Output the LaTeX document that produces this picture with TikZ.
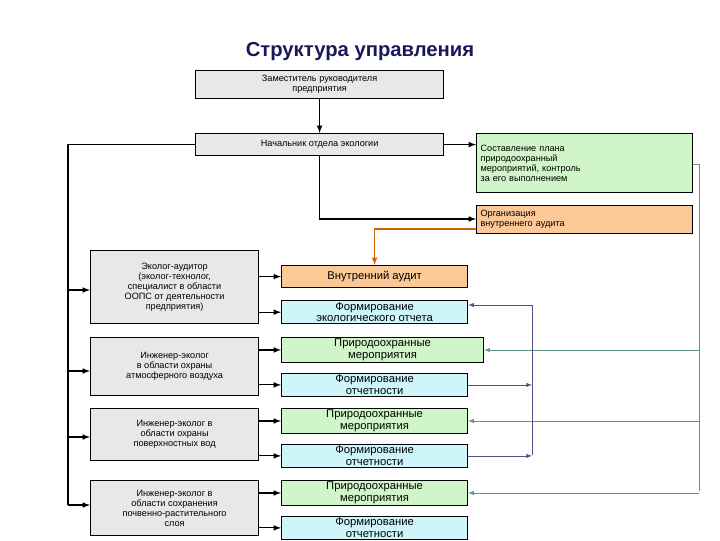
\documentclass[tikz,border=0pt]{standalone}
\usepackage{fontspec}
\setmainfont{Liberation Sans}
\usetikzlibrary{arrows}
\definecolor{boxgrey}{RGB}{232,232,232}
\definecolor{boxgreen}{RGB}{208,245,200}
\definecolor{boxorange}{RGB}{252,200,150}
\definecolor{boxcyan}{RGB}{205,245,250}
\definecolor{fbgreen}{RGB}{90,150,130}
\definecolor{fbblue}{RGB}{80,80,140}
\definecolor{titleblue}{RGB}{25,25,90}
\tikzset{
    box/.style={draw, thick, align=center, inner sep=1pt, anchor=north west, font=\fontsize{6.5}{7}\selectfont},
    head/.style={box, fill=boxgrey},
    staff/.style={box, fill=boxgrey, minimum width=4.2cm},
    plan/.style={box, fill=boxgreen, align=left, anchor=north west},
    org/.style={box, fill=boxorange, align=left},
    task/.style={box, minimum width=4.65cm, font=\fontsize{8}{8.5}\selectfont},
    link/.style={draw, thick, -latex}
}
\begin{document}
\begin{tikzpicture}[x=0.025cm, y=-0.025cm]
\useasboundingbox (0,0) rectangle (720,540);
\node[font=\bfseries\Large, text=titleblue] (title) at (360,52) {Структура управления};

\node[head, minimum width=6.2cm, minimum height=0.7cm] (zam) at (195,70) {Заместитель руководителя\\предприятия};
\node[head, minimum width=6.2cm, minimum height=0.55cm] (nach) at (195,133) {Начальник отдела экологии};
\node[plan, minimum width=5.4cm, minimum height=1.48cm, text width=5.2cm, align=left] (plan) at (476,133) {Составление плана\\природоохранный\\мероприятий, контроль\\за его выполнением};
\node[org, minimum width=5.4cm, minimum height=0.7cm, text width=5.2cm] (orgaud) at (476,205) {Организация\\внутреннего аудита};

\node[staff, minimum height=1.83cm] (eco) at (90,250) {Эколог-аудитор\\(эколог-технолог,\\специалист в области\\ООПС от деятельности\\предприятия)};
\node[staff, minimum height=1.45cm] (air) at (90,337) {Инженер-эколог\\в области охраны\\атмосферного воздуха};
\node[staff, minimum height=1.3cm] (water) at (90,408) {Инженер-эколог в\\области охраны\\поверхностных вод};
\node[staff, minimum height=1.38cm] (soil) at (90,480) {Инженер-эколог в\\области сохранения\\почвенно-растительного\\слоя};

\node[task, fill=boxorange, minimum height=0.55cm] (audit) at (281,265) {Внутренний аудит};
\node[task, fill=boxcyan, minimum height=0.58cm] (rep) at (281,300) {Формирование\\экологического отчета};
\node[task, fill=boxgreen, minimum width=5.05cm, minimum height=0.53cm] (act1) at (281,337) {Природоохранные\\мероприятия};
\node[task, fill=boxcyan, minimum height=0.55cm] (rep1) at (281,373) {Формирование\\отчетности};
\node[task, fill=boxgreen, minimum height=0.55cm] (act2) at (281,408) {Природоохранные\\мероприятия};
\node[task, fill=boxcyan, minimum height=0.55cm] (rep2) at (281,444) {Формирование\\отчетности};
\node[task, fill=boxgreen, minimum height=0.55cm] (act3) at (281,480) {Природоохранные\\мероприятия};
\node[task, fill=boxcyan, minimum height=0.55cm] (rep3) at (281,516) {Формирование\\отчетности};

\coordinate (leftend) at (68,505);
\coordinate (gtop) at (699,164);
\coordinate (gend) at (699,491);
\coordinate (btop) at (532,305);
\coordinate (bend) at (532,455);

% vertical chain
\draw[link] (zam) -- (nach);
\draw[link] (nach) -- (plan.west |- nach);
\draw[link] (nach.south) |- (orgaud.west |- 0,219);
\draw[link, orange!80!black] (orgaud.west |- 0,229) -| (audit.north);

% staff line on the left
\draw[thick] (nach.west) -| (leftend);
\foreach \s/\yy in {eco/290, air/371, water/437, soil/505}
  \draw[link] (68,\yy) -- (\s.west |- 0,\yy);

% staff to tasks
\draw[link] (eco.east |- audit) -- (audit);
\draw[link] (eco.east |- rep) -- (rep);
\draw[link] (air.east |- act1) -- (act1);
\draw[link] (air.east |- rep1) -- (rep1);
\draw[link] (water.east |- act2) -- (act2);
\draw[link] (water.east |- rep2) -- (rep2);
\draw[link] (soil.east |- act3) -- (act3);
\draw[link] (soil.east |- rep3) -- (rep3);

% feedback lines
\draw[fbgreen] (plan.east |- gtop) -- (gtop) -- (gend);
\foreach \t in {act1, act2, act3}
  \draw[fbgreen, -latex] (gtop |- \t) -- (\t.east);
\draw[fbblue] (btop) -- (bend);
\draw[fbblue, -latex] (btop) -- (rep.east |- btop);
\draw[fbblue, -latex] (rep1.east) -- (btop |- rep1);
\draw[fbblue, -latex] (rep2.east) -- (btop |- rep2);
\end{tikzpicture}
\end{document}
